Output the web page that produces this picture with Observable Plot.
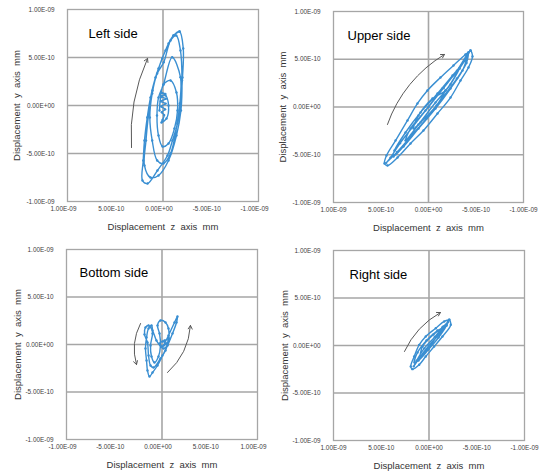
<!DOCTYPE html>
<html>
<head>
<meta charset="utf-8">
<script src="https://cdn.jsdelivr.net/npm/d3@7"></script>
<script src="https://cdn.jsdelivr.net/npm/@observablehq/plot@0.6"></script>
<style>
  html, body { margin: 0; padding: 0; background: #fff; }
  #wrap { position: relative; width: 543px; height: 473px; overflow: hidden; }
  .panel { position: absolute; }
</style>
</head>
<body>
<div id="wrap"></div>
<script>
// Values in units of 1e-10 mm
const axisTicks = [-10, -5, 0, 5, 10];
const gridY = [-5, 0, 5];
const gridX = [0];

// Left side orbit (z, y)
const leftZ = [0.10,-0.25,0.20,-0.30,0.22,-0.28,0.18,-0.22,0.12,-0.12,0.05,
  0.16,-0.37,-0.58,-0.26,0.16,0.37,
  -0.05,-0.79,-1.41,-1.52,-1.20,-0.58,0.05,0.47,0.63,0.47,-0.05,
  -0.96,-1.83,-1.76,-1.31,-0.79,-0.05,0.61,1.13,1.38,1.13,0.61,-0.08,
  -0.79,-1.38,-1.83,-1.99,-1.88,-1.41,-0.58,0.47,1.31,1.94,1.78,1.52,1.10,0.47,-0.26,
  -1.10,-1.73,-2.12,-2.04,-1.83,-1.52,-0.99,-0.47,0.58,1.62,2.15,2.07,1.94,1.65,1.31,0.79,0.08,-0.58,-1.10,-1.73];
const leftY = [1.30,1.20,0.94,0.70,0.45,0.20,-0.10,-0.40,-0.70,-1.00,-1.50,
  -1.77,-1.35,0,1.04,0.94,-0.52,
  2.19,2.60,1.35,-0.52,-2.40,-3.96,-4.27,-3.13,-1.04,0.83,2.19,
  5.03,2.95,0.21,-2.92,-5.00,-6.04,-5.73,-3.65,-1.25,1.25,3.33,4.51,
  6.77,7.29,5.73,2.60,-0.52,-3.13,-5.73,-7.29,-7.50,-6.25,-3.65,-1.04,1.56,3.85,5.73,
  7.29,7.71,5.94,2.92,0.21,-1.88,-3.65,-5.21,-6.77,-8.13,-7.81,-5.73,-3.65,-1.25,0.83,2.92,4.90,6.46,7.29,7.71];

// Upper side orbit
const upperZ = [-1.79,-0.84,0.84,1.58,1.05,-0.42,-1.79,
  -3.26,-2.32,-0.74,1.05,2.42,1.89,0.32,-1.47,-3.26,
  -4.00,-3.58,-2.32,-0.74,1.05,2.63,3.68,3.58,2.42,0.84,-0.95,-2.53,-4.00,
  -4.21,-4.00,-3.00,-1.50,0.20,1.80,3.30,4.45,4.00,3.00,1.60,0.00,-1.60,-3.00,-4.21,
  -4.42,-4.63,-4.21,-3.37,-2.32,-0.95,0.53,1.89,3.26,4.32,4.63,4.42,3.47,2.21,1.16,0.11,-1.26,-2.63,-3.89,-4.42];
const upperY = [1.73,0.16,-1.62,-2.25,-0.89,0.89,1.73,
  4.03,2.36,0.47,-1.83,-3.51,-2.25,-0.37,1.94,4.03,
  5.08,3.82,1.94,-0.16,-2.25,-4.14,-5.18,-4.56,-2.67,-0.58,1.41,3.30,5.08,
  5.71,4.60,3.00,1.00,-1.20,-3.00,-4.70,-5.85,-5.30,-3.80,-2.00,0.00,2.00,3.80,5.71,
  5.92,5.29,4.14,2.77,0.99,-0.68,-2.46,-3.82,-5.29,-6.13,-5.92,-5.08,-3.51,-1.41,0.37,1.73,3.09,4.35,5.50,5.92];

// Bottom side orbit
const bottomZ = [0.16,0.68,1.31,1.62,1.52,1.10,0.58,0.05,-0.47,-0.99,-1.31,-1.52,-1.62,-1.73,-1.62,-1.41,-1.10,-0.99,-1.20,-1.10,-0.79,-0.37,-0.16,-0.26,-0.47,-0.16,0.37,0.68,0.68,0.37,-0.16,-0.89,-1.20,-1.41,-1.52,-1.83,-1.73,-1.41,-0.99,-0.58,-0.05,0.47,0.79,0.26,-0.26,0.16,0.58,0.05];
const bottomY = [-0.11,0.95,2.32,2.95,2.32,1.16,-0.11,-1.16,-2.21,-2.95,-3.37,-2.74,-1.68,-0.42,0.74,1.68,2.00,1.16,-0.11,-1.26,-1.89,-1.26,-0.11,1.16,2.00,2.53,2.32,1.68,0.42,-0.63,-1.47,-2.42,-2.21,-1.16,0.21,1.05,1.79,2.00,1.47,0.42,-0.21,0.11,0.63,0.42,0.11,-0.42,0.00,0.32];

// Right side orbit
const rightZ = [-1.41,-0.37,0.89,0.68,-0.47,-1.41,
  -1.83,-1.00,0.05,1.10,1.52,1.20,0.26,-0.89,-1.83,
  -2.00,-1.20,0.00,1.00,1.60,1.30,0.50,-0.60,-1.50,-2.00,
  -2.12,-2.28,-1.41,-0.54,0.34,1.03,1.73,1.91,1.55,1.03,0.34,-0.71,-1.59,-2.12];
const rightY = [1.89,0.32,-1.16,-0.11,1.16,1.89,
  2.11,0.84,-0.42,-1.58,-1.79,-0.74,0.53,1.58,2.11,
  2.50,1.30,0.00,-1.30,-2.20,-1.60,-0.30,0.90,2.00,2.50,
  2.71,2.18,0.95,-0.11,-1.16,-2.03,-2.49,-2.21,-1.16,0.07,0.95,1.82,2.53,2.71];

// Direction arrows (tail -> head)
const leftArrow   = {z1: [3.30], y1: [-4.38], z2: [1.62], y2: [4.90], bend: 14};
const upperArrow  = {z1: [4.32], y1: [-1.83], z2: [-1.68], y2: [5.50], bend: 20};
const bottomArrow = {z1: [-2.25, 0.58], y1: [2.21, -2.95], z2: [-2.67, 2.98], y2: [-2.11, 2.00], bend: -22};
const rightArrow  = {z1: [2.57], y1: [-0.63], z2: [-1.20], y2: [3.47], bend: 18};

const titles = ["Left side", "Upper side", "Bottom side", "Right side"];
const xLabel = "Displacement\u00a0 z\u00a0 axis\u00a0 mm";
const yLabel = "Displacement\u00a0 y\u00a0 axis\u00a0 mm";

function fmt(v) {
  const [m, e] = (v * 1e-10).toExponential(2).split("e");
  const sign = e[0];
  const n = e.slice(1).padStart(2, "0");
  return m.toUpperCase() + "E" + sign + n;
}

const panels = [
  {left: 0,   top: 0,   w: 272, h: 236, ml: 67, mr: 14, mt: 9,  mb: 35, rev: true,  tdx: 21, tdy: 24, xdx: -4, ylo: 51, title: titles[0], z: leftZ,   y: leftY,   ar: leftArrow},
  {left: 272, top: 0,   w: 271, h: 236, ml: 61, mr: 20, mt: 11, mb: 34, rev: true,  tdx: 14, tdy: 24, xdx: 0,  ylo: 51, title: titles[1], z: upperZ,  y: upperY,  ar: upperArrow},
  {left: 0,   top: 236, w: 272, h: 237, ml: 66, mr: 15, mt: 13, mb: 34, rev: false, tdx: 13, tdy: 23, xdx: -4, ylo: 49, title: titles[2], z: bottomZ, y: bottomY, ar: bottomArrow},
  {left: 272, top: 236, w: 271, h: 237, ml: 61, mr: 19, mt: 14, mb: 33, rev: true,  tdx: 16, tdy: 24, xdx: 0,  ylo: 49, title: titles[3], z: rightZ,  y: rightY,  ar: rightArrow}
];

const blue = "#3a8fd2";
const grid = "#a6a6a6";
const wrap = document.getElementById("wrap");

for (const p of panels) {
  const pts = p.z.map((z, i) => ({z, y: p.y[i]}));
  const arrows = p.ar.z1.map((_, i) => ({x1: p.ar.z1[i], y1: p.ar.y1[i], x2: p.ar.z2[i], y2: p.ar.y2[i]}));
  const chart = Plot.plot({
    width: p.w, height: p.h,
    marginLeft: p.ml, marginRight: p.mr, marginTop: p.mt, marginBottom: p.mb,
    style: {fontFamily: "'Liberation Sans', Arial, sans-serif", fontSize: "6.4px", color: "#404040", background: "transparent", overflow: "visible"},
    x: {domain: p.rev ? [10, -10] : [-10, 10]},
    y: {domain: [-10, 10]},
    marks: [
      Plot.ruleY(gridY, {stroke: grid, strokeWidth: 1.3}),
      Plot.ruleX(gridX, {stroke: grid, strokeWidth: 1.6}),
      Plot.frame({stroke: grid, strokeWidth: 1.3}),
      Plot.axisY(axisTicks, {tickSize: 0, tickPadding: 13, tickFormat: fmt, label: null, fill: "#404040"}),
      Plot.axisX(axisTicks, {tickSize: 0, tickPadding: 5, tickFormat: fmt, label: null, dx: p.xdx, fill: "#404040"}),
      Plot.line(pts, {x: "z", y: "y", stroke: blue, strokeWidth: 1.4, curve: "catmull-rom"}),
      Plot.dot(pts, {x: "z", y: "y", r: 1.2, fill: blue, stroke: null}),
      Plot.arrow(arrows, {x1: "x1", y1: "y1", x2: "x2", y2: "y2", bend: p.ar.bend, stroke: "#595959", strokeWidth: 1, headLength: 6}),
      Plot.text([p.title], {frameAnchor: "top-left", dx: p.tdx, dy: p.tdy, lineAnchor: "middle", textAnchor: "start", fontSize: 13, fill: "#000"}),
      Plot.text([xLabel], {frameAnchor: "bottom", dy: 25, lineAnchor: "middle", textAnchor: "middle", fontSize: 9.5, fill: "#333"}),
      Plot.text([yLabel], {frameAnchor: "left", dx: -p.ylo, rotate: -90, lineAnchor: "middle", textAnchor: "middle", fontSize: 9.5, fill: "#333"})
    ]
  });
  const div = document.createElement("div");
  div.className = "panel";
  div.style.left = p.left + "px";
  div.style.top = p.top + "px";
  div.appendChild(chart);
  wrap.appendChild(div);
}
</script>
</body>
</html>
